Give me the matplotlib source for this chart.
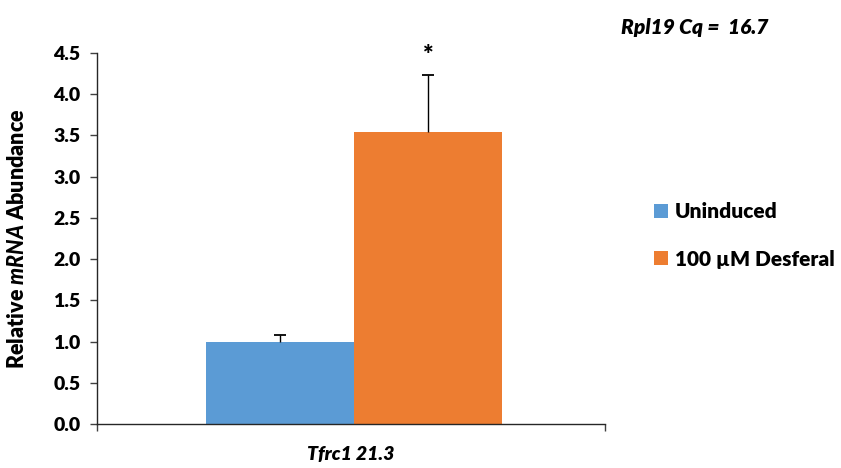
import matplotlib
matplotlib.use("Agg")
import matplotlib.pyplot as plt

# Data
series = ["Uninduced", "100 µM Desferal"]
values = [1.0, 3.54]
errors = [0.08, 0.69]
colors = ["#5B9BD5", "#ED7D31"]
category = "Tfrc1 21.3"
yticks = [0.0, 0.5, 1.0, 1.5, 2.0, 2.5, 3.0, 3.5, 4.0, 4.5]

W = "heavy"
plt.rcParams["font.family"] = ["Lato", "DejaVu Sans"]
plt.rcParams["mathtext.fontset"] = "custom"
plt.rcParams["mathtext.it"] = "Lato:italic:black"
plt.rcParams["mathtext.rm"] = "Lato:black"
plt.rcParams["mathtext.bf"] = "Lato:black"

fig = plt.figure(figsize=(8.41, 4.68), dpi=100)
ax = fig.add_axes([0.1153, 0.094, 0.6041, 0.7928])

width = 0.292
cap = 0.012
offsets = [-width / 2 + 0.006, width / 2 + 0.006]
for off, v, e, c, lab in zip(offsets, values, errors, colors, series):
    ax.bar(off, v, width=width, color=c, label=lab, zorder=2)
    # upper-only error bar with a cap
    ax.vlines(off, v, v + e, color="black", linewidth=1.0, zorder=3)
    ax.hlines(v + e, off - cap, off + cap, color="black", linewidth=1.3, zorder=3)

# significance marker above the treated bar
ax.text(offsets[1], values[1] + errors[1] + 0.24, "*", ha="center",
        va="center", fontsize=18, fontweight=W)

ax.set_xlim(-0.5, 0.5)
ax.set_ylim(0, 4.5)
ax.set_yticks(yticks)
ax.set_yticklabels([f"{t:.1f}" for t in yticks], fontsize=14, fontweight=W)
ax.set_xticks([-0.5, 0.5])
ax.set_xticklabels(["", ""])
ax.tick_params(axis="y", length=5, width=1, color="#404040", pad=7)
ax.tick_params(axis="x", length=5, width=1, color="#404040")

for s in ["top", "right"]:
    ax.spines[s].set_visible(False)
for s in ["left", "bottom"]:
    ax.spines[s].set_color("#262626")
    ax.spines[s].set_linewidth(1.0)

ax.text(0.0, -0.082, category, transform=ax.get_xaxis_transform(),
        ha="center", va="center", fontsize=14, fontweight=W, style="italic")

ax.set_ylabel(r"Relative $\mathit{mRNA}$ Abundance", fontsize=15.5,
              fontweight=W, labelpad=18)

leg = ax.legend(loc="center left", bbox_to_anchor=(1.08, 0.508), frameon=False,
                prop={"weight": W, "size": 15}, handlelength=0.65,
                handleheight=0.65, handletextpad=0.35, labelspacing=1.35,
                borderaxespad=0.0)

fig.text(0.739, 0.942, "Rpl19 Cq =  16.7", fontsize=15, fontweight=W,
         style="italic", ha="left", va="center")

fig.savefig("out.png", dpi=100)
